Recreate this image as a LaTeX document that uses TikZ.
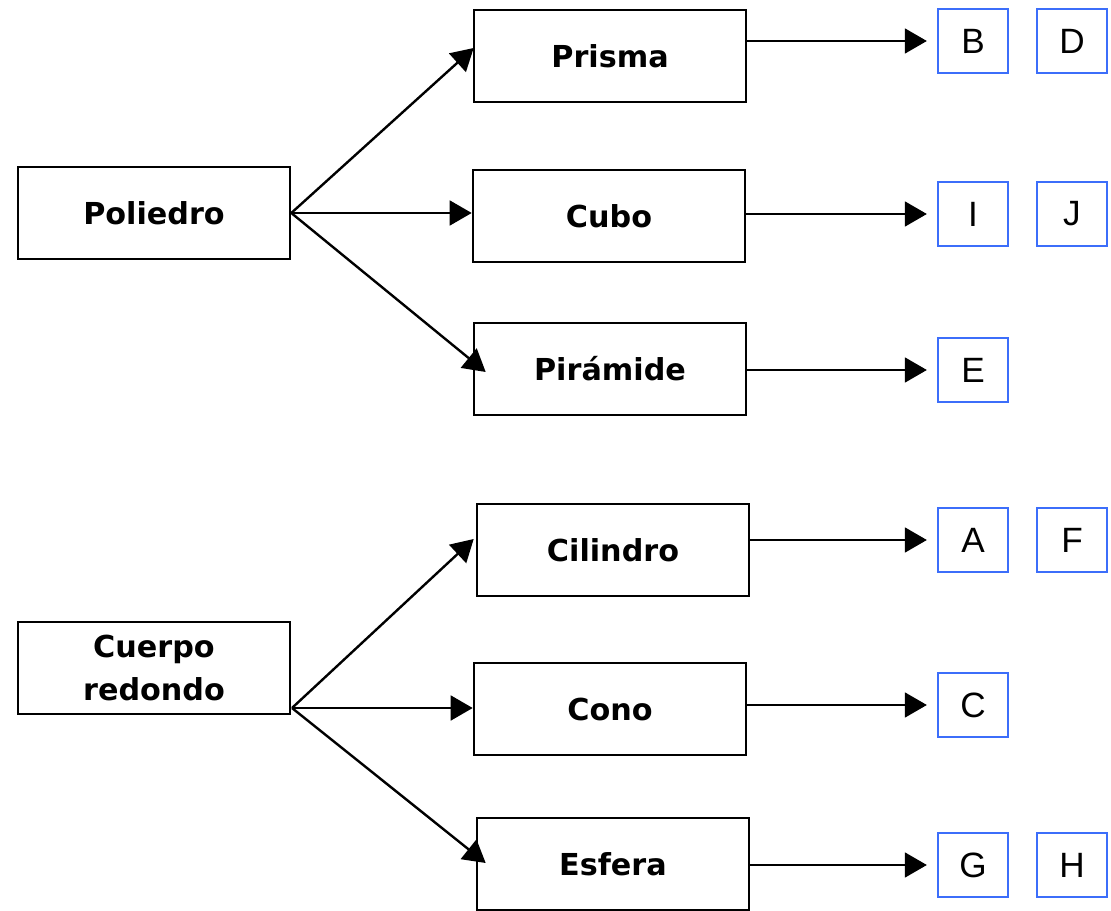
\documentclass[tikz,border=0pt]{standalone}
\usepackage{fontspec}
\setmainfont{DejaVu Sans}
\newfontfamily\lettersans{Liberation Sans}
\usepackage{tikz}
\usetikzlibrary{positioning,arrows.meta,calc}
\definecolor{letterblue}{RGB}{60,110,250}
\tikzset{
    block/.style = {
        draw,
        shape=rectangle,
        minimum height=2.3cm,
        minimum width=6.8cm,
        line width=1.8pt,
        align=center,
        font=\fontsize{21.5}{30}\selectfont\bfseries
    },
    letter/.style = {
        draw=letterblue,
        shape=rectangle,
        minimum height=1.6cm,
        minimum width=1.75cm,
        line width=1.6pt,
        font=\lettersans\fontsize{25}{30}\selectfont
    },
    link/.style = {
        draw,
        line width=1.7pt,
        ->
    },
    >={Triangle[length=0.55cm,width=0.62cm]},
}
\begin{document}
\begin{tikzpicture}[x=0.025cm, y=-0.025cm]
            \useasboundingbox (0,0) rectangle (1111,911);

            % groups
            \node[block] (poli) at (154,213) {Poliedro};
            \node[block] (cuerpo) at (154,668) {Cuerpo\\redondo};
            \coordinate (fork) at (292,708);

            % shapes
            \node[block] (prisma) at (610,56) {Prisma};
            \node[block] (cubo) at (609,216) {Cubo};
            \node[block] (piramide) at (610,369) {Pirámide};
            \node[block] (cilindro) at (613,550) {Cilindro};
            \node[block] (cono) at (610,709) {Cono};
            \node[block] (esfera) at (613,864) {Esfera};

            % letters
            \node[letter] (b) at (973,41) {B};
            \node[letter] (d) at (1072,41) {D};
            \node[letter] (i) at (973,214) {I};
            \node[letter] (j) at (1072,214) {J};
            \node[letter] (e) at (973,370) {E};
            \node[letter] (a) at (973,540) {A};
            \node[letter] (f) at (1072,540) {F};
            \node[letter] (c) at (973,705) {C};
            \node[letter] (g) at (973,865) {G};
            \node[letter] (h) at (1072,865) {H};

            \path[link] (poli.east) -- ($(prisma.west)+(1,-8)$);
            \path[link] (poli.east) -- (cubo.west |- poli.east);
            \path[link] (poli.east) -- ($(piramide.west)+(13,3)$);
            \path[link] (fork) -- ($(cilindro.west)+(-2,-11)$);
            \path[link] (fork) -- (cono.west |- fork);
            \path[link] (fork) -- ($(esfera.west)+(10,-1)$);

            \foreach \from/\to in {prisma/b, cubo/i, piramide/e, cilindro/a, cono/c, esfera/g}
                \path[link, shorten >=0.25cm] (\from.east |- \to) -- (\to.west);
        \end{tikzpicture}
\end{document}
